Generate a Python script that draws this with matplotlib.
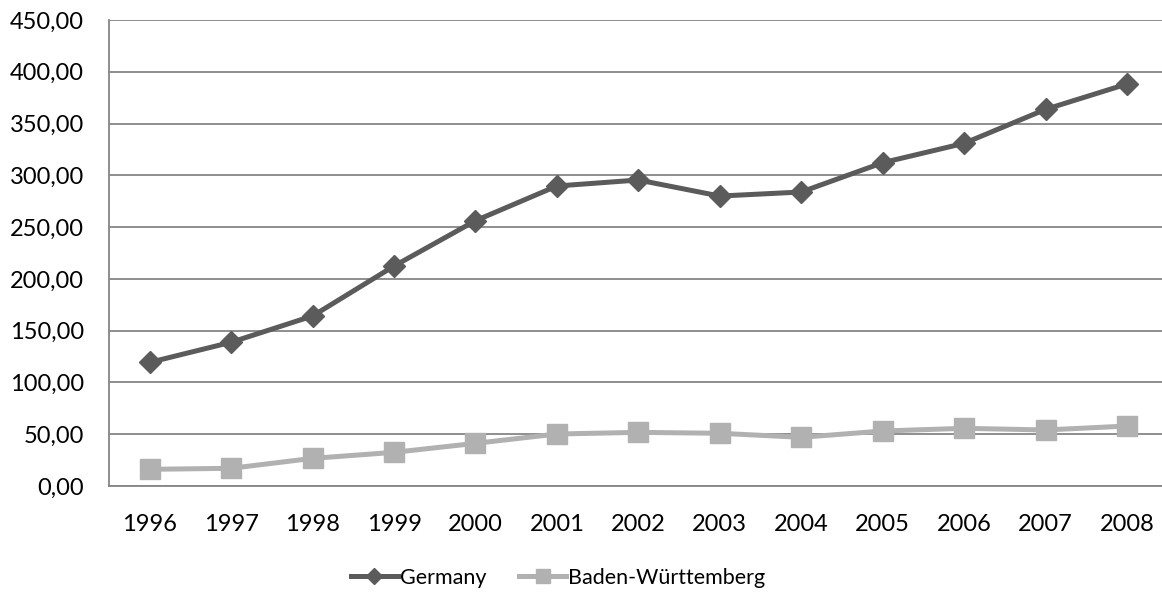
import matplotlib.pyplot as plt
from matplotlib.ticker import FuncFormatter

# Daten
jahre = ['1996', '1997', '1998', '1999', '2000', '2001', '2002',
         '2003', '2004', '2005', '2006', '2007', '2008']
germany = [119.4, 138.8, 164.2, 212.4, 256.2, 289.7, 295.5,
           280.0, 283.9, 312.2, 330.9, 363.7, 388.2]
baden_wuerttemberg = [16.1, 17.1, 26.7, 32.5, 41.2, 50.2, 51.8,
                      50.9, 47.0, 53.1, 55.7, 54.1, 57.9]

plt.rcParams['font.family'] = ['Lato', 'DejaVu Sans']

fig = plt.figure(figsize=(11.62, 5.94), dpi=100)
ax = fig.add_axes([109 / 1162, 108 / 594, 1053 / 1162, 466 / 594])

x = range(len(jahre))
ax.plot(x, germany, color='#5b5b5b', lw=3.6, marker='D', ms=11,
        label='Germany', zorder=3)
ax.plot(x, baden_wuerttemberg, color='#b1b1b1', lw=3.6, marker='s', ms=14,
        label='Baden-Württemberg', zorder=3)

# Achsen
ax.set_ylim(0, 450)
ax.set_yticks(range(0, 451, 50))
ax.yaxis.set_major_formatter(FuncFormatter(lambda v, p: f'{v:.2f}'.replace('.', ',')))
ax.set_xlim(-0.5, 12.43)
ax.set_xticks(list(x))
ax.set_xticklabels(jahre)
ax.grid(axis='y', color='#868686', lw=1.3)
ax.set_axisbelow(True)
for s in ['top', 'right']:
    ax.spines[s].set_visible(False)
ax.spines['left'].set_color('#868686')
ax.spines['bottom'].set_color('#868686')
ax.spines['left'].set_linewidth(1.3)
ax.spines['bottom'].set_linewidth(1.3)
ax.tick_params(axis='both', length=0, labelsize=17, colors='black')
ax.tick_params(axis='y', pad=18)
ax.tick_params(axis='x', pad=20)

# Legende unten
fig.legend(loc='center', bbox_to_anchor=(558 / 1162, 1 - 578 / 594),
           ncol=2, frameon=False, fontsize=15.5, handlelength=2.2,
           handletextpad=0.1, columnspacing=1.5, markerscale=0.75)

fig.savefig('out.png', dpi=100)
